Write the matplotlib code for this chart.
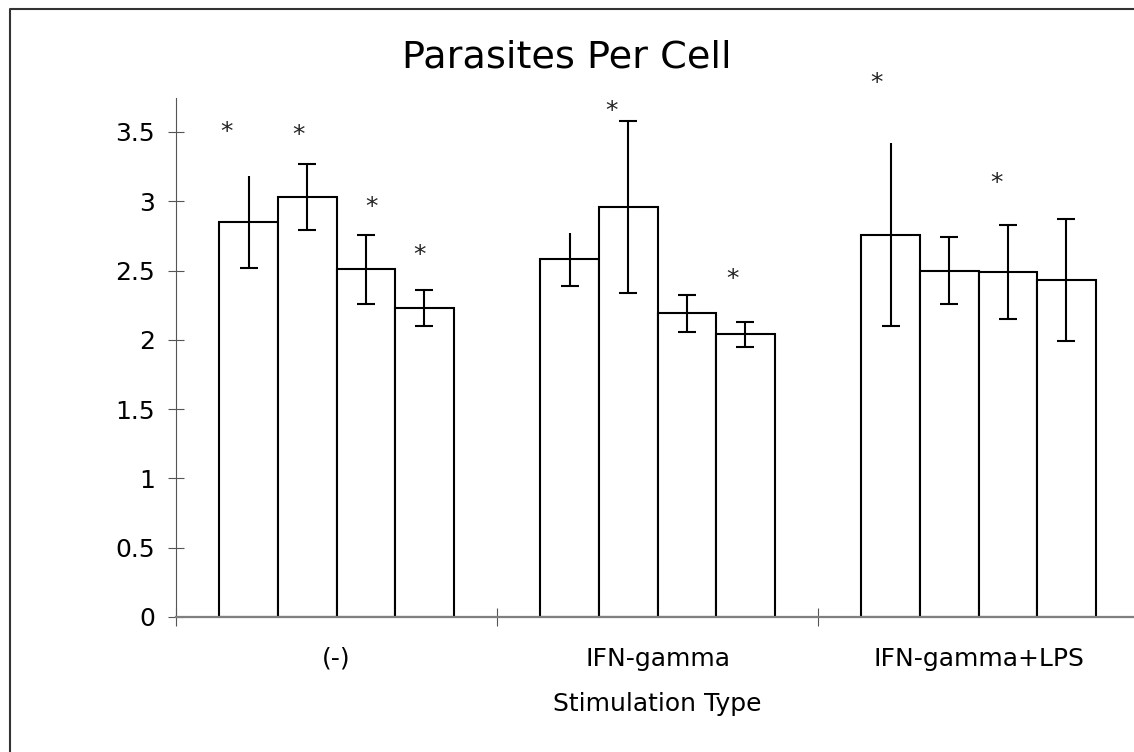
import matplotlib
matplotlib.use("Agg")
import matplotlib.pyplot as plt
import numpy as np
from matplotlib.lines import Line2D

# ---- data ---------------------------------------------------------------
groups = ["(-)", "IFN-gamma", "IFN-gamma+LPS"]
means = [
    [2.85, 3.03, 2.51, 2.23],   # (-)
    [2.58, 2.96, 2.19, 2.04],   # IFN-gamma
    [2.76, 2.50, 2.49, 2.43],   # IFN-gamma+LPS
]
errs = [
    [0.33, 0.24, 0.25, 0.13],
    [0.19, 0.62, 0.135, 0.09],
    [0.66, 0.245, 0.34, 0.44],
]
# significance stars: (group, bar, y position)
star_group = [0, 0, 0, 0, 1, 1, 2, 2]
star_bar = [0, 1, 2, 3, 1, 3, 0, 2]
star_y = [3.50, 3.48, 2.96, 2.61, 3.65, 2.44, 3.85, 3.13]
star_dx = [-0.37, -0.14, 0.10, -0.09, -0.29, -0.22, -0.24, -0.20]

yticks = [0, 0.5, 1, 1.5, 2, 2.5, 3, 3.5]
ytick_labels = ["0", "0.5", "1", "1.5", "2", "2.5", "3", "3.5"]

W, H = 1134, 752
fig = plt.figure(figsize=(W / 100, H / 100), dpi=100)
ax = fig.add_axes([176 / W, 1 - 617 / H, 963 / W, 519 / H])

n_bars = len(means[0])
bw = 0.1826
centers = np.arange(len(groups)) + 0.5
offsets = (np.arange(n_bars) - (n_bars - 1) / 2) * bw

for g, c in enumerate(centers):
    xs = c + offsets
    m = np.array(means[g])
    e = np.array(errs[g])
    ax.bar(xs, m, width=bw, color="white", edgecolor="black", linewidth=1.5, zorder=2)
    ax.errorbar(xs, m, yerr=e, fmt="none", ecolor="black", elinewidth=1.5,
                capsize=0, zorder=3)
    # lower caps on every bar, upper caps on all but the first bar
    ax.plot(xs, m - e, ls="none", marker="_", ms=13.4, mew=1.5, color="black", zorder=3)
    ax.plot(xs[1:], (m + e)[1:], ls="none", marker="_", ms=13.4, mew=1.5,
            color="black", zorder=3)

for g, b, y, dx in zip(star_group, star_bar, star_y, star_dx):
    x = centers[g] + offsets[b] + dx * bw
    ax.text(x, y, "*", ha="center", va="center", fontsize=18, color="#222222",
            clip_on=False)

ax.set_xlim(0, 3)
ax.set_ylim(0, 3.745)

ax.set_yticks(yticks)
ax.set_yticklabels(ytick_labels)
ax.tick_params(axis="y", direction="inout", length=11.5, width=0.8, color="#555555",
               labelsize=18, pad=9.4)

ax.set_xticks([0, 1, 2, 3])
ax.set_xticklabels([])
ax.set_xticks(centers, minor=True)
ax.set_xticklabels(groups, minor=True)
ax.tick_params(axis="x", which="major", direction="inout", length=13, width=0.8,
               color="#555555")
ax.tick_params(axis="x", which="minor", length=0, labelsize=18, pad=21.5)

ax.set_xlabel("Stimulation Type", fontsize=18, labelpad=15)

for side in ["top", "right"]:
    ax.spines[side].set_visible(False)
ax.spines["bottom"].set_color("#7f7f7f")
ax.spines["bottom"].set_linewidth(1.6)
ax.spines["left"].set_color("#555555")
ax.spines["left"].set_linewidth(0.8)

fig.text(0.5, 1 - 68 / H, "Parasites Per Cell", ha="center", va="baseline", fontsize=27.5)

# outer frame (left and top edges)
fx, fy = 10 / W, 1 - 9 / H
fig.add_artist(Line2D([fx, fx, 1.0], [0.0, fy, fy], transform=fig.transFigure,
                      color="#333333", linewidth=1.5))

fig.savefig("out.png", dpi=100)
